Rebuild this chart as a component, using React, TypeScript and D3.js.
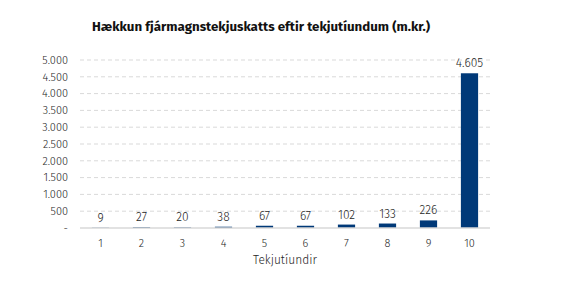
import React from "react";
import * as d3 from "d3";

const categories = ["1", "2", "3", "4", "5", "6", "7", "8", "9", "10"];
const values = [9, 27, 20, 38, 67, 67, 102, 133, 226, 4605];
const yTicks = [0, 500, 1000, 1500, 2000, 2500, 3000, 3500, 4000, 4500, 5000];
const title = "Hækkun fjármagnstekjuskatts eftir tekjutíundum (m.kr.)";
const xTitle = "Tekjutíundir";

const W = 584;
const H = 296;
const m = { left: 80, right: 94, top: 60, bottom: 68 };

const fmt = (v: number) => (v === 0 ? "-" : d3.format(",")(v).replace(/,/g, "."));

export default function App() {
  const x = d3
    .scaleBand<string>()
    .domain(categories)
    .range([m.left, W - m.right])
    .paddingInner(0.58)
    .paddingOuter(0.29);
  const y = d3.scaleLinear().domain([0, 5000]).range([H - m.bottom, m.top]);
  const font = "'Fira Sans', 'Noto Sans', 'Open Sans', sans-serif";
  return (
    <svg width={W} height={H} style={{ position: "absolute", left: 0, top: 0, background: "#fff" }}>
      <text x={92} y={31} textAnchor="start" fontFamily={font} fontWeight={700} fontSize={13.3} fill="#111">
        {title}
      </text>
      {yTicks.map((t) => (
        <g key={t}>
          {t > 0 && (
            <line x1={m.left} x2={W - m.right} y1={y(t)} y2={y(t)} stroke="#d9d9d9" strokeDasharray="4,3" strokeWidth={1} />
          )}
          <text x={68} y={y(t)} dy="0.35em" textAnchor="end" fontFamily={font} fontWeight={300} fontSize={11} fill="#262626">
            {fmt(t)}
          </text>
        </g>
      ))}
      {categories.map((c, i) => {
        const v = values[i];
        const cx = (x(c) as number) + x.bandwidth() / 2;
        return (
          <g key={c}>
            <rect x={x(c)} y={y(v)} width={x.bandwidth()} height={y(0) - y(v)} fill="#003978" />
            <text x={cx} y={y(v) - 6} textAnchor="middle" fontFamily={font} fontWeight={300} fontSize={12} fill="#262626">
              {fmt(v)}
            </text>
            <text x={cx} y={y(0) + 15} dy="0.35em" textAnchor="middle" fontFamily={font} fontWeight={300} fontSize={11} fill="#262626">
              {c}
            </text>
          </g>
        );
      })}
      <line x1={m.left} x2={W - m.right} y1={y(0)} y2={y(0)} stroke="#d9d9d9" strokeWidth={1.5} />
      <text x={(m.left + W - m.right) / 2} y={264} textAnchor="middle" fontFamily={font} fontWeight={300} fontSize={12} fill="#262626">
        {xTitle}
      </text>
    </svg>
  );
}
